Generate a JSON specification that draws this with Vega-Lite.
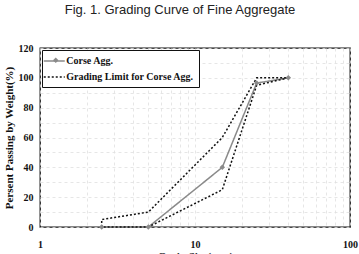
{
  "$schema": "https://vega.github.io/schema/vega-lite/v6.json",
  "width": 310,
  "height": 179,
  "autosize": "none",
  "padding": {"left": 40, "top": 48, "right": 9, "bottom": 27},
  "background": "white",
  "title": {
    "text": "Fig. 1. Grading Curve of Fine Aggregate",
    "font": "Liberation Sans",
    "fontSize": 13,
    "fontWeight": "normal",
    "color": "#222",
    "anchor": "middle",
    "frame": "group",
    "dx": -15,
    "offset": 16,
    "baseline": "alphabetic"
  },
  "config": {
    "view": {"stroke": "#111", "strokeWidth": 1.3},
    "axis": {
      "domain": false,
      "ticks": false,
      "grid": true,
      "gridColor": "#e0e0e0",
      "gridDash": [3, 3],
      "gridWidth": 0.8,
      "labelFont": "Liberation Serif",
      "labelFontWeight": "bold",
      "labelFontSize": 10,
      "labelColor": "#111",
      "titleFont": "Liberation Serif",
      "titleFontWeight": "bold",
      "titleFontSize": 11,
      "titleColor": "#111"
    }
  },
  "data": {
    "values": [
      {"series": "Corse Agg.", "grp": "corse", "size": 2.5, "pass": 0, "ord": 1},
      {"series": "Corse Agg.", "grp": "corse", "size": 5, "pass": 0, "ord": 2},
      {"series": "Corse Agg.", "grp": "corse", "size": 15, "pass": 40, "ord": 3},
      {"series": "Corse Agg.", "grp": "corse", "size": 25, "pass": 96.5, "ord": 4},
      {"series": "Corse Agg.", "grp": "corse", "size": 40, "pass": 100, "ord": 5},
      {"series": "Grading Limit for Corse Agg.", "grp": "limit", "size": 40, "pass": 100, "ord": 1},
      {"series": "Grading Limit for Corse Agg.", "grp": "limit", "size": 25, "pass": 95, "ord": 2},
      {"series": "Grading Limit for Corse Agg.", "grp": "limit", "size": 15, "pass": 25, "ord": 3},
      {"series": "Grading Limit for Corse Agg.", "grp": "limit", "size": 5, "pass": 0, "ord": 4},
      {"series": "Grading Limit for Corse Agg.", "grp": "limit", "size": 2.5, "pass": 0, "ord": 5},
      {"series": "Grading Limit for Corse Agg.", "grp": "limit", "size": 2.5, "pass": 5, "ord": 6},
      {"series": "Grading Limit for Corse Agg.", "grp": "limit", "size": 5, "pass": 10, "ord": 7},
      {"series": "Grading Limit for Corse Agg.", "grp": "limit", "size": 15, "pass": 60, "ord": 8},
      {"series": "Grading Limit for Corse Agg.", "grp": "limit", "size": 25, "pass": 100, "ord": 9},
      {"series": "Grading Limit for Corse Agg.", "grp": "limit", "size": 40, "pass": 100, "ord": 10}
    ]
  },
  "encoding": {
    "x": {
      "field": "size",
      "type": "quantitative",
      "scale": {"type": "log", "domain": [1, 100], "nice": false},
      "axis": {
        "title": "Grain Size(mm)",
        "values": [1, 2, 3, 4, 5, 6, 7, 8, 9, 10, 20, 30, 40, 50, 60, 70, 80, 90, 100],
        "format": "~g",
        "labelExpr": "datum.value == 1 || datum.value == 10 || datum.value == 100 ? datum.label : ''",
        "labelFlush": false,
        "labelOverlap": false,
        "labelPadding": 12,
        "titlePadding": 1
      }
    },
    "y": {
      "field": "pass",
      "type": "quantitative",
      "scale": {"domain": [0, 120], "nice": false},
      "axis": {
        "title": "Persent Passing by Weight(%)",
        "values": [0, 10, 20, 30, 40, 50, 60, 70, 80, 90, 100, 110, 120],
        "labelExpr": "datum.value % 20 == 0 ? datum.label : ''",
        "labelOverlap": false,
        "labelPadding": 7,
        "titlePadding": 4
      }
    }
  },
  "layer": [
    {
      "mark": {"type": "line", "strokeWidth": 1.5},
      "encoding": {
        "color": {
          "field": "series",
          "type": "nominal",
          "scale": {"domain": ["Corse Agg.", "Grading Limit for Corse Agg."], "range": ["#8a8a8a", "#111111"]},
          "legend": {
            "title": null,
            "orient": "none",
            "legendX": 2,
            "legendY": 2,
            "strokeColor": "#111",
            "fillColor": "white",
            "padding": 5,
            "cornerRadius": 0,
            "symbolType": "M-2,0H2",
            "symbolSize": 110.25,
            "symbolOffset": 1.25,
            "symbolStrokeWidth": 1.5,
            "labelFont": "Liberation Serif",
            "labelFontWeight": "bold",
            "labelFontSize": 10,
            "labelColor": "#111",
            "labelOffset": 6,
            "rowPadding": 5
          }
        },
        "strokeDash": {
          "field": "series",
          "type": "nominal",
          "scale": {"domain": ["Corse Agg.", "Grading Limit for Corse Agg."], "range": [[1, 0], [2, 2]]},
          "legend": {
            "title": null,
            "orient": "none",
            "legendX": 2,
            "legendY": 2,
            "strokeColor": "#111",
            "fillColor": "white",
            "padding": 5,
            "cornerRadius": 0,
            "symbolType": "M-2,0H2",
            "symbolSize": 110.25,
            "symbolOffset": 1.25,
            "symbolStrokeWidth": 1.5,
            "labelFont": "Liberation Serif",
            "labelFontWeight": "bold",
            "labelFontSize": 10,
            "labelColor": "#111",
            "labelOffset": 6,
            "rowPadding": 5
          }
        },
        "detail": {"field": "grp", "type": "nominal"},
        "order": {"field": "ord", "type": "quantitative"}
      }
    },
    {
      "transform": [{"filter": "datum.series === 'Corse Agg.'"}],
      "mark": {"type": "point", "filled": true, "color": "#8a8a8a", "size": 30, "opacity": 1},
      "encoding": {
        "shape": {
          "field": "series",
          "type": "nominal",
          "scale": {"domain": ["Corse Agg."], "range": ["diamond"]},
          "legend": {
            "title": null,
            "orient": "none",
            "legendX": 10.76,
            "legendY": 7.25,
            "padding": 0,
            "symbolSize": 30,
            "symbolFillColor": "#8a8a8a",
            "symbolStrokeColor": "#8a8a8a",
            "symbolStrokeWidth": 0,
            "symbolOpacity": 1,
            "labelExpr": "''",
            "labelFontSize": 10,
            "labelOffset": 0
          }
        }
      }
    }
  ]
}
